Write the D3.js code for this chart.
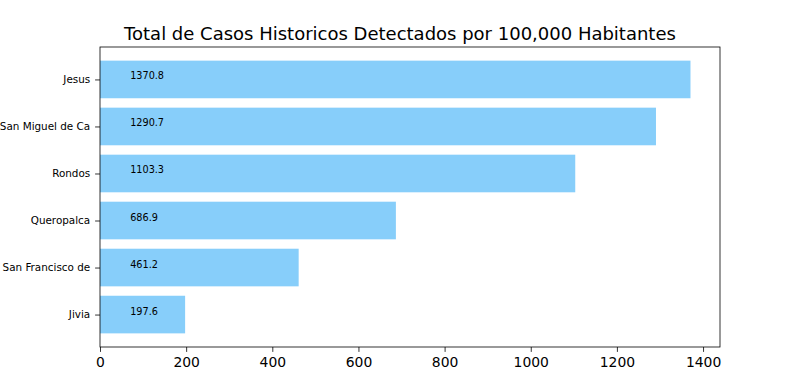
<!DOCTYPE html>
<html><head><meta charset="utf-8">
<script src="https://cdn.jsdelivr.net/npm/d3@7"></script>
<style>body{margin:0;background:#fff;} svg{display:block;font-family:"DejaVu Sans",sans-serif;}</style>
</head><body>
<svg id="c" width="800" height="390"></svg>
<script>
const categories = ["Jivia", "San Francisco de", "Queropalca", "Rondos", "San Miguel de Ca", "Jesus"];
const values = [197.6, 461.2, 686.9, 1103.3, 1290.7, 1370.8];
const xTicks = [0, 200, 400, 600, 800, 1000, 1200, 1400];
const title = "Total de Casos Historicos Detectados por 100,000 Habitantes";

const svg = d3.select("#c");
const W = 800, L = 100, R = 720, T = 47, B = 347;
const xmax = d3.max(values) * 1.05;
const x = d3.scaleLinear().domain([0, xmax]).range([L, R]);
const n = categories.length;
const y = d3.scaleLinear().domain([-0.4 - 0.05 * (n - 0.2), n - 1 + 0.4 + 0.05 * (n - 0.2)]).range([B, T]);

svg.append("rect").attr("width", 800).attr("height", 390).attr("fill", "#fff");

svg.selectAll("rect.bar").data(values).enter().append("rect")
  .attr("class", "bar")
  .attr("x", x(0))
  .attr("y", (d, i) => y(i + 0.4))
  .attr("width", d => x(d) - x(0))
  .attr("height", (d, i) => y(i - 0.4) - y(i + 0.4))
  .attr("fill", "#87CEFA");

svg.selectAll("text.val").data(values).enter().append("text")
  .attr("class", "val")
  .attr("x", x(70))
  .attr("y", (d, i) => y(i))
  .attr("font-size", "9.7px")
  .attr("fill", "#000")
  .text(d => d.toFixed(1));

// axes
const xAxis = d3.axisBottom(x).tickValues(xTicks).tickSize(4.9).tickPadding(4.9).tickFormat(d3.format("d"));
const gx = svg.append("g").attr("transform", `translate(0,${B})`).call(xAxis);
gx.select(".domain").remove();
gx.selectAll("text").attr("font-size", "13.9px").attr("fill", "#000").attr("font-family", "DejaVu Sans");
gx.selectAll("line").attr("stroke", "#000").attr("stroke-width", 0.8);

const yAxis = d3.axisLeft(y).tickValues(d3.range(n)).tickFormat(i => categories[i]).tickSize(4.9).tickPadding(4.9);
const gy = svg.append("g").attr("transform", `translate(${L},0)`).call(yAxis);
gy.select(".domain").remove();
gy.selectAll("text").attr("font-size", "10.4px").attr("fill", "#000").attr("font-family", "DejaVu Sans");
gy.selectAll("line").attr("stroke", "#000").attr("stroke-width", 0.8);

svg.append("rect").attr("x", L).attr("y", T).attr("width", R - L).attr("height", B - T)
  .attr("fill", "none").attr("stroke", "#000").attr("stroke-width", 0.8);

svg.append("text").attr("x", W / 2).attr("y", 39.5).attr("text-anchor", "middle")
  .attr("font-size", "18px").attr("fill", "#000").text(title);
</script>
</body></html>
